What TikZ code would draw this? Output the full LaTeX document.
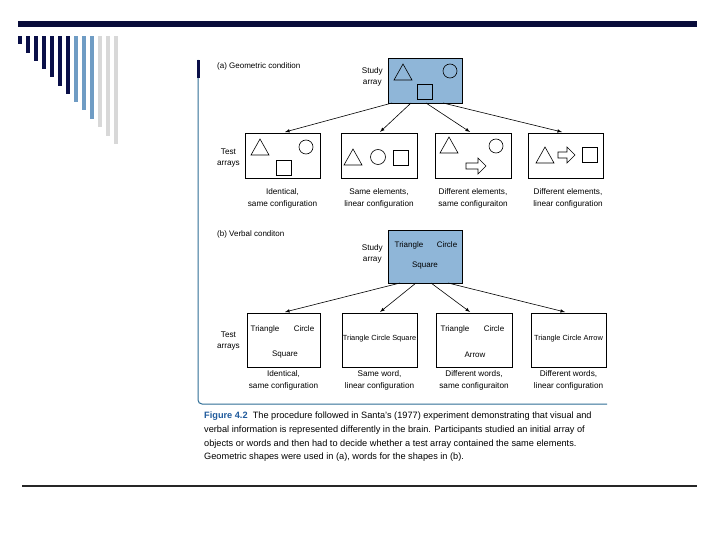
\documentclass[tikz,border=0pt]{standalone}
\usepackage{fontspec}
\setmainfont{Liberation Sans}
\begin{document}
\begin{tikzpicture}[x=1pt,y=-1pt,
  lbl/.style={font=\fontsize{8.2}{9}\selectfont,inner sep=0pt,align=center},
  captxt/.style={font=\fontsize{9.2}{10}\selectfont,inner sep=0pt,anchor=west},
  box/.style={draw,line width=0.7pt,fill=white},
  sbox/.style={draw,line width=0.7pt,fill=studyblue},
  shp/.style={draw,line width=0.6pt},
  arr/.style={-latex,line width=0.6pt},
  word/.style={font=\fontsize{8}{9}\selectfont,inner sep=0pt},
  lword/.style={font=\fontsize{7.4}{9}\selectfont,inner sep=0pt}]
\definecolor{navy}{HTML}{0A0F48}
\definecolor{steel}{HTML}{6F9CC4}
\definecolor{lgray}{HTML}{D8D8D8}
\definecolor{studyblue}{HTML}{8FB6D8}
\definecolor{figblue}{HTML}{1F5A9C}
\definecolor{frameblue}{HTML}{2F6E96}
\useasboundingbox (0,0) rectangle (720,540);
\fill[white] (0,0) rectangle (720,540);
% slide decoration
\fill[navy!80!black] (18,21) rectangle (697,27);
\foreach \i/\b in {0/44,1/53,2/61,3/69,4/77,5/86,6/94}{\fill[navy] (18+8*\i,36) rectangle (22+8*\i,\b);}
\foreach \i/\b in {7/102,8/110,9/119}{\fill[steel] (18+8*\i,36) rectangle (22+8*\i,\b);}
\foreach \i/\b in {10/127,11/136,12/144}{\fill[lgray] (18+8*\i,36) rectangle (22+8*\i,\b);}
\draw[line width=1.2pt,black!85] (22,486) -- (697,486);
% figure frame
\draw[frameblue,line width=1pt,rounded corners=4pt] (198,60) -- (198,404) -- (607,404);
\fill[navy] (196.5,60) rectangle (199.5,78);
% (a)
\node[captxt,font=\fontsize{8}{9}\selectfont] (ta) at (217,66) {(a) Geometric condition};
\node[sbox,minimum width=74pt,minimum height=45pt] (sa) at (425,80.5) {};
\node[lbl,anchor=east] (sal) at (383,77) {Study\\[2pt]array};
\draw[shp] (394,80)--(403,64)--(412,80)--cycle;
\draw[shp] (450,71) circle (7);
\draw[shp] (417,84) rectangle (432,99);
\foreach \n/\x/\xr in {a1/245/320,a2/341/417,a3/435/511,a4/528/603}{
  \node[box,minimum width=\xr pt-\x pt,minimum height=45pt] (\n) at ({(\x+\xr)/2},155.5) {};}
\node[lbl,anchor=east] (tal) at (240,158) {Test\\[2pt]arrays};
% a1 shapes
\draw[shp] (251,155)--(260,139)--(269,155)--cycle;
\draw[shp] (306,147) circle (7);
\draw[shp] (276,160) rectangle (291,175);
% a2
\draw[shp] (344,165)--(353,149)--(362,165)--cycle;
\draw[shp] (378,157) circle (7.5);
\draw[shp] (393,150) rectangle (408,165);
% a3
\draw[shp] (440,153)--(449,137)--(458,153)--cycle;
\draw[shp] (496,146) circle (7);
\draw[shp] (466,163)--(478,163)--(478,158)--(486,166)--(478,174)--(478,169)--(466,169)--cycle;
% a4
\draw[shp] (536,163)--(545,147)--(554,163)--cycle;
\draw[shp] (558,152)--(567,152)--(567,147)--(575,155)--(567,163)--(567,158)--(558,158)--cycle;
\draw[shp] (582,147) rectangle (597,162);
\node[lbl] (ca1) at (282.5,198.5) {Identical,\\[3pt]same configuration};
\node[lbl] (ca2) at (379,198.5) {Same elements,\\[3pt]linear configuration};
\node[lbl] (ca3) at (473,198.5) {Different elements,\\[3pt]same configuraiton};
\node[lbl] (ca4) at (568,198.5) {Different elements,\\[3pt]linear configuration};
\coordinate (sa1) at (392,103); \coordinate (sa2) at (411,103);
\coordinate (sa3) at (426,103); \coordinate (sa4) at (443,103);
\coordinate (ea1) at (285,132); \coordinate (ea2) at (380,132);
\coordinate (ea3) at (470,132); \coordinate (ea4) at (562,132);
\foreach \k in {1,2,3,4}{\draw[arr] (sa\k) -- (ea\k);}
% (b)
\node[captxt,font=\fontsize{8}{9}\selectfont] (tb) at (217,234) {(b) Verbal conditon};
\node[sbox,minimum width=74pt,minimum height=53pt] (sb) at (425,256.5) {};
\node[lbl,anchor=east] (sbl) at (383,254) {Study\\[2pt]array};
\node[word] (sbw1) at (409,245) {Triangle};
\node[word] (sbw2) at (447,245) {Circle};
\node[word] (sbw3) at (425,266) {Square};
\foreach \n/\x/\xr in {b1/247/320,b2/342/417,b3/436/512,b4/531/606}{
  \node[box,minimum width=\xr pt-\x pt,minimum height=54pt] (\n) at ({(\x+\xr)/2},340) {};}
\node[lbl,anchor=east] (tbl) at (240,341) {Test\\[2pt]arrays};
\node[word] (w11) at (265,329) {Triangle};
\node[word] (w12) at (304,329) {Circle};
\node[word] (w13) at (285,355) {Square};
\node[lword] (w2) at (379.5,339) {Triangle Circle Square};
\node[word] (w31) at (455,329) {Triangle};
\node[word] (w32) at (494,329) {Circle};
\node[word] (w33) at (475,355) {Arrow};
\node[lword] (w4) at (568.5,339) {Triangle Circle Arrow};
\node[lbl] (cb1) at (283.5,380) {Identical,\\[3pt]same configuration};
\node[lbl] (cb2) at (379.5,380) {Same word,\\[3pt]linear configuration};
\node[lbl] (cb3) at (474,380) {Different words,\\[3pt]same configuraiton};
\node[lbl] (cb4) at (568.5,380) {Different words,\\[3pt]linear configuration};
\coordinate (sb1) at (400,283); \coordinate (sb2) at (416,283);
\coordinate (sb3) at (431,283); \coordinate (sb4) at (448,283);
\coordinate (eb1) at (285,312); \coordinate (eb2) at (380,312);
\coordinate (eb3) at (470,312); \coordinate (eb4) at (565,312);
\foreach \k in {1,2,3,4}{\draw[arr] (sb\k) -- (eb\k);}
% caption
\node[captxt] (c1) at (204,416) {\textcolor{figblue}{\textbf{Figure 4.2}}\ \ The procedure followed in Santa's (1977) experiment demonstrating that visual and};
\node[captxt] (c2) at (204,430) {verbal information is represented differently in the brain. Participants studied an initial array of};
\node[captxt] (c3) at (204,444) {objects or words and then had to decide whether a test array contained the same elements.};
\node[captxt] (c4) at (204,457) {Geometric shapes were used in (a), words for the shapes in (b).};
\end{tikzpicture}
\end{document}
